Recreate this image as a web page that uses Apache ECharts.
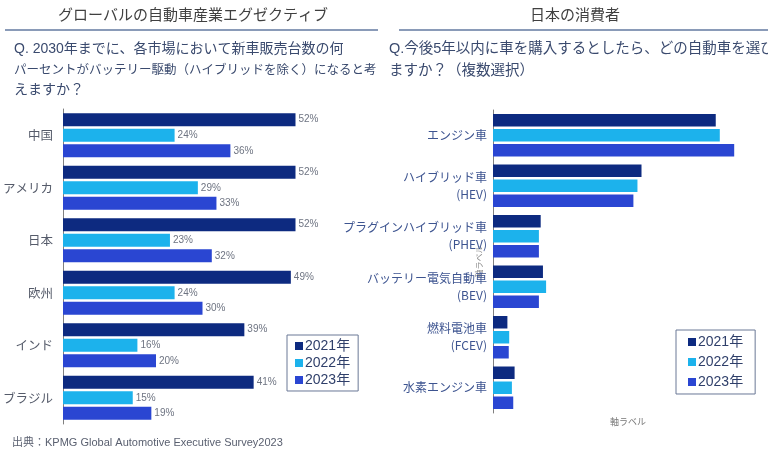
<!DOCTYPE html>
<html><head><meta charset="utf-8">
<script src="https://cdn.jsdelivr.net/npm/echarts@6/dist/echarts.min.js"></script>
<style>html,body{margin:0;padding:0;background:#fff}#c{width:768px;height:455px}</style>
</head><body><div id="c"></div>
<script>
const seriesNames = ['2021年', '2022年', '2023年'];
const colors = ['#0D2A80', '#1CB2EC', '#2A46D2'];
const leftCategories = ['中国', 'アメリカ', '日本', '欧州', 'インド', 'ブラジル'];
const left2021 = [52, 52, 52, 49, 39, 41];
const left2022 = [24, 29, 23, 24, 16, 15];
const left2023 = [36, 33, 32, 30, 20, 19];
const rightCategories = ['エンジン車', 'ハイブリッド車\n(HEV)', 'プラグインハイブリッド車\n(PHEV)', 'バッテリー電気自動車\n(BEV)', '燃料電池車\n(FCEV)', '水素エンジン車'];
const right2021 = [49.5, 33.0, 10.6, 11.1, 3.2, 4.8];
const right2022 = [50.4, 32.1, 10.2, 11.8, 3.6, 4.2];
const right2023 = [53.6, 31.2, 10.2, 10.2, 3.5, 4.5];

const JP = "'Noto Sans CJK JP', sans-serif";
const MIX = "'Liberation Sans', 'Noto Sans CJK JP', sans-serif";
const leftData = [left2021, left2022, left2023];
const rightData = [right2021, right2022, right2023];

const chart = echarts.init(document.getElementById('c'), null, {renderer: 'canvas'});
const series = [];
seriesNames.forEach((n, i) => {
  series.push({
    name: n, type: 'bar', xAxisIndex: 0, yAxisIndex: 0,
    data: leftData[i], barWidth: 13, barGap: '20%', clip: true,
    itemStyle: {color: colors[i]},
    label: {show: true, position: 'right', distance: 3, formatter: '{c}%',
      fontSize: 10, color: '#6E7482', fontFamily: MIX}
  });
});
seriesNames.forEach((n, i) => {
  series.push({
    name: n, type: 'bar', xAxisIndex: 1, yAxisIndex: 1,
    data: rightData[i], barWidth: 12.5, barGap: '20%',
    itemStyle: {color: colors[i]}
  });
});

const legendBase = {
  orient: 'vertical', icon: 'rect', itemWidth: 8, itemHeight: 8,
  borderColor: '#6A7896', borderWidth: 1,
  textStyle: {fontSize: 14, color: '#2F3F6A', fontFamily: MIX, padding: [0, 0, 0, -3]},
  data: seriesNames, selectedMode: false
};

chart.setOption({
  animation: false,
  backgroundColor: '#fff',
  grid: [
    {left: 62, top: 109, width: 233.5, height: 315},
    {left: 493, top: 110, width: 270, height: 303}
  ],
  xAxis: [
    {gridIndex: 0, type: 'value', min: 0, max: 50, show: false},
    {gridIndex: 1, type: 'value', min: 0, max: 60,
      axisLine: {show: false}, axisTick: {show: false}, axisLabel: {show: false}, splitLine: {show: false},
      name: '軸ラベル', nameLocation: 'middle', nameGap: 4, nameMoveOverlap: false,
      nameTextStyle: {fontSize: 9, color: '#777', fontFamily: JP, verticalAlign: 'top'}}
  ],
  yAxis: [
    {gridIndex: 0, type: 'category', inverse: true, data: leftCategories,
      axisLine: {show: true, lineStyle: {color: '#808080', width: 1}},
      axisTick: {show: false},
      axisLabel: {fontSize: 12.5, color: '#555B6A', margin: 10, fontFamily: JP}},
    {gridIndex: 1, type: 'category', inverse: true, data: rightCategories,
      axisLine: {show: true, lineStyle: {color: '#808080', width: 1}},
      axisTick: {show: false},
      axisLabel: {fontSize: 12, color: '#3D5490', margin: 6, fontFamily: JP, lineHeight: 17, align: 'right'},
      name: '軸ラベル', nameLocation: 'middle', nameRotate: 90, nameGap: 10, nameMoveOverlap: false,
      nameTextStyle: {fontSize: 8, color: '#888', fontFamily: JP}}
  ],
  legend: [
    Object.assign({}, legendBase, {left: 287, top: 335, padding: [4, 8, 4, 8], itemGap: 3}),
    Object.assign({}, legendBase, {left: 676, top: 330, padding: [5, 12, 5, 12], itemGap: 6})
  ],
  graphic: [
    {type: 'text', x: 193, y: 14, style: {text: 'グローバルの自動車産業エグゼクティブ', font: '15px ' + JP, fill: '#404040', textAlign: 'center', textVerticalAlign: 'middle'}},
    {type: 'text', x: 575, y: 14, style: {text: '日本の消費者', font: '15px ' + JP, fill: '#404040', textAlign: 'center', textVerticalAlign: 'middle'}},
    {type: 'line', shape: {x1: 5, y1: 30, x2: 378, y2: 30}, style: {stroke: '#8A9BB8', lineWidth: 2}},
    {type: 'line', shape: {x1: 399, y1: 30, x2: 768, y2: 30}, style: {stroke: '#8A9BB8', lineWidth: 2}},
    {type: 'text', x: 14, y: 49, style: {text: 'Q. 2030年までに、各市場において新車販売台数の何', font: '14px ' + MIX, fill: '#3A4A6E', textVerticalAlign: 'middle'}},
    {type: 'text', x: 14, y: 69, style: {text: 'パーセントがバッテリー駆動（ハイブリッドを除く）になると考', font: '12.5px ' + JP, fill: '#3A4A6E', textVerticalAlign: 'middle'}},
    {type: 'text', x: 14, y: 89, style: {text: 'えますか？', font: '14px ' + JP, fill: '#3A4A6E', textVerticalAlign: 'middle'}},
    {type: 'text', x: 389, y: 49, style: {text: 'Q.今後5年以内に車を購入するとしたら、どの自動車を選び', font: '14.5px ' + MIX, fill: '#3A4A6E', textVerticalAlign: 'middle'}},
    {type: 'text', x: 389, y: 69, style: {text: 'ますか？（複数選択）', font: '14.5px ' + JP, fill: '#3A4A6E', textVerticalAlign: 'middle'}},
    {type: 'text', x: 12, y: 443, style: {text: '出典：KPMG Global Automotive Executive Survey2023', font: '11px ' + MIX, fill: '#5A6070', textVerticalAlign: 'middle'}}
  ],
  series: series
});
</script></body></html>
